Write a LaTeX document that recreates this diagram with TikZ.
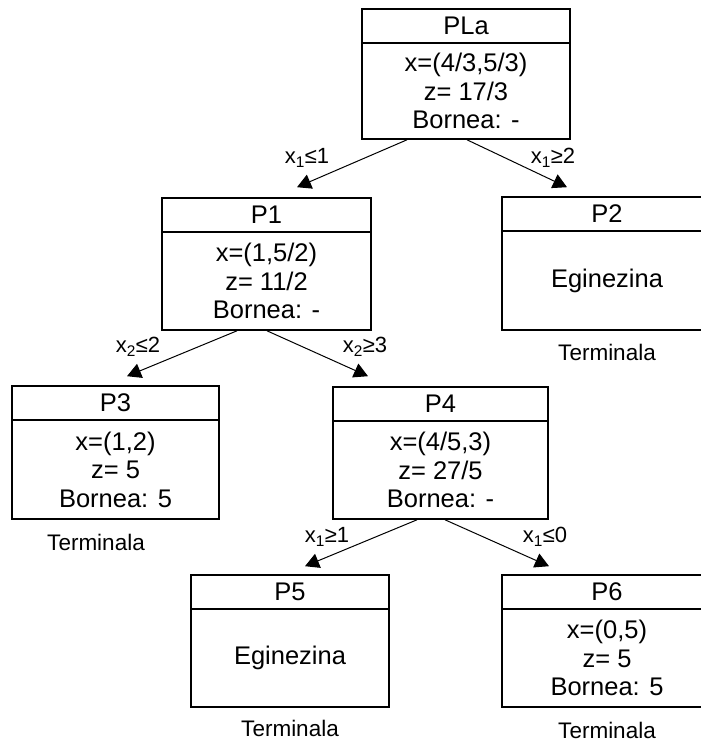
\documentclass[tikz,border=0pt]{standalone}
\usepackage{fontspec}
\setmainfont{Liberation Sans}
\usetikzlibrary{arrows.meta,fit,calc}

\tikzset{
  pbox/.style={draw, line width=1.6pt, inner sep=0pt},
  divider/.style={line width=1.6pt},
  ptitle/.style={inner sep=0pt, font=\fontsize{25.5}{28.5}\selectfont},
  pbody/.style={inner sep=0pt, align=center, font=\fontsize{25.5}{28.5}\selectfont},
  branch/.style={line width=1pt, -{Triangle[length=14pt,width=15pt]}},
  cond/.style={inner sep=0pt, font=\fontsize{22}{25}\selectfont},
  note/.style={inner sep=0pt, font=\fontsize{22.5}{25}\selectfont},
}

% #1 name, #2 left, #3 top, #4 right, #5 bottom, #6 title, #7 body
\newcommand{\treebox}[7]{%
  \node[pbox, fit={(#2,#3) (#4,#5)}] (#1) {};
  \draw[divider] ([yshift=-34.5pt]#1.north west) -- ([yshift=-34.5pt]#1.north east);
  \node[ptitle] (#1-title) at ([yshift=-17.5pt]#1.north) {#6};
  \node[pbody] (#1-body) at ($([yshift=-34.5pt]#1.north)!0.5!(#1.south)$) {#7};
}

\begin{document}
\begin{tikzpicture}[x=1pt, y=-1pt]
  \useasboundingbox (0,0) rectangle (701,745);
  \fill[white] (0,0) rectangle (701,745);

  \treebox{pla}{362}{9}{570}{139}{PLa}{x=(4/3,5/3)\\z= 17/3\\Bornea: -}
  \treebox{p1}{162}{198}{371}{330}{P1}{x=(1,5/2)\\z= 11/2\\Bornea: -}
  \treebox{p2}{502}{197}{712}{330}{P2}{Eginezina}
  \treebox{p3}{12}{386}{219}{519}{P3}{x=(1,2)\\z= 5\\Bornea: 5}
  \treebox{p4}{333}{387}{548}{519}{P4}{x=(4/5,3)\\z= 27/5\\Bornea: -}
  \treebox{p5}{191}{575}{389}{707}{P5}{Eginezina}
  \treebox{p6}{502}{575}{712}{707}{P6}{x=(0,5)\\z= 5\\Bornea: 5}

  % branching arcs
  \draw[branch] ([xshift=-59pt]pla.south) -- ([xshift=30.5pt,yshift=10pt]p1.north);
  \draw[branch] ([xshift=1pt]pla.south) -- ([xshift=-40pt,yshift=9pt]p2.north);
  \draw[branch] ([xshift=-29.5pt]p1.south) -- ([xshift=11.5pt,yshift=9pt]p3.north);
  \draw[branch] ([xshift=0.5pt]p1.south) -- ([xshift=-72.5pt,yshift=10pt]p4.north);
  \draw[branch] ([xshift=-23.5pt]p4.south) -- ([xshift=15pt,yshift=8pt]p5.north);
  \draw[branch] ([xshift=4.5pt]p4.south) -- ([xshift=-58pt,yshift=8pt]p6.north);

  % branching conditions
  \node[cond] (c1) at (307,158) {x\textsubscript{1}≤1};
  \node[cond] (c2) at (553,158) {x\textsubscript{1}≥2};
  \node[cond] (c3) at (138,347) {x\textsubscript{2}≤2};
  \node[cond] (c4) at (365,347) {x\textsubscript{2}≥3};
  \node[cond] (c5) at (327,537) {x\textsubscript{1}≥1};
  \node[cond] (c6) at (545,537) {x\textsubscript{1}≤0};

  % terminal markers
  \node[note] (t2) at ([yshift=-22pt]p2.south) {Terminala};
  \node[note] (t3) at ([xshift=-19.5pt,yshift=-23pt]p3.south) {Terminala};
  \node[note] (t5) at ([yshift=-21pt]p5.south) {Terminala};
  \node[note] (t6) at ([yshift=-23pt]p6.south) {Terminala};
\end{tikzpicture}
\end{document}
